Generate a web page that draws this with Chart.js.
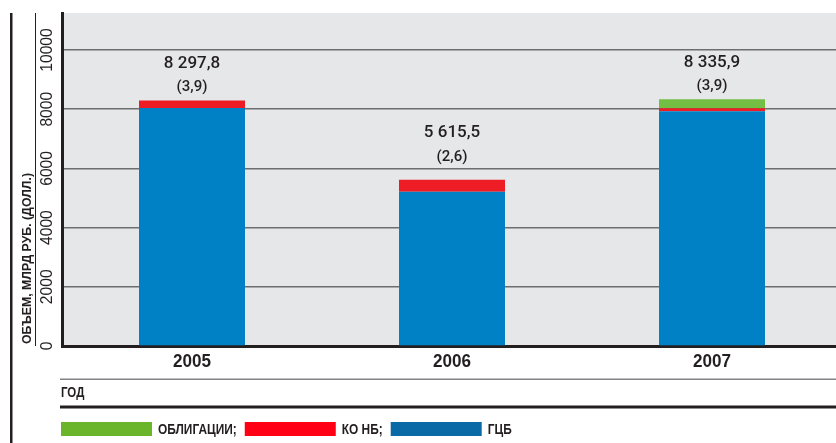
<!DOCTYPE html>
<html><head><meta charset="utf-8">
<script src="https://cdn.jsdelivr.net/npm/chart.js@4/dist/chart.umd.min.js"></script>
<style>html,body{margin:0;padding:0;background:#fff;overflow:hidden;width:836px;height:443px}canvas{display:block}</style>
</head><body>
<canvas id="c" width="842" height="443"></canvas>
<script>
// ---- data ----
const years = ['2005', '2006', '2007'];
const gcb = [8040, 5215, 7930];        // ГЦБ
const koNb = [258, 400, 100];          // КО НБ
const bonds = [0, 0, 306];             // ОБЛИГАЦИИ
const totals = [8297.8, 5615.5, 8335.9];
const totalsUsd = [3.9, 2.6, 3.9];
const yTicks = [0, 2000, 4000, 6000, 8000, 10000];
const seriesNames = ['ГЦБ', 'КО НБ', 'ОБЛИГАЦИИ'];
const yTitle = 'ОБЪЕМ, МЛРД РУБ. (ДОЛЛ.)';
const xTitle = 'ГОД';

// ---- styles ----
const SANS = "'Liberation Sans',Arial,sans-serif";
const barColors = ['#0081c6', '#ee1c25', '#72bf44'];
const legendColors = ['#0a6aa6', '#ff0014', '#6bb52b'];
const INK = '#231f20';
const labelNudge = [0, 10, 0];

function fmtRu(v, dec) {
  const s = v.toFixed(dec);
  const [i, d] = s.split('.');
  const ii = i.replace(/\B(?=(\d{3})+(?!\d))/g, ' ');
  return d ? ii + ',' + d : ii;
}

// draw horizontally condensed text; returns drawn width
function condText(ctx, t, x, y, sx, align) {
  const w = ctx.measureText(t).width * sx;
  let x0 = x;
  if (align === 'center') x0 = x - w / 2;
  ctx.save();
  ctx.textAlign = 'left';
  ctx.translate(x0, y);
  ctx.scale(sx, 1);
  ctx.fillText(t, 0, 0);
  ctx.restore();
  return w;
}

const deco = {
  id: 'deco',
  beforeDraw(chart) {
    const {ctx, chartArea: a} = chart;
    ctx.save();
    ctx.fillStyle = '#e6e7e8';
    ctx.fillRect(a.left, a.top, a.right - a.left, a.bottom - a.top);
    ctx.restore();
  },
  afterDraw(chart) {
    const {ctx, chartArea: a, scales: {x, y}} = chart;
    const W = chart.width;
    ctx.save();
    ctx.fillStyle = INK;
    ctx.fillRect(10, a.top, 2.5, chart.height - a.top);
    ctx.fillRect(35, a.top, 1, a.bottom - a.top);

    // y tick labels (rotated)
    ctx.font = '17px ' + SANS;
    ctx.textBaseline = 'middle';
    yTicks.forEach(v => {
      const py = y.getPixelForValue(v);
      ctx.save(); ctx.translate(47, py); ctx.rotate(-Math.PI / 2);
      condText(ctx, String(v), 0, 0, 0.92, 'center'); ctx.restore();
    });
    // y title
    ctx.save(); ctx.translate(27.5, a.bottom - 2); ctx.rotate(-Math.PI / 2);
    ctx.font = 'bold 13px ' + SANS; ctx.textBaseline = 'middle';
    const tw = ctx.measureText(yTitle).width;
    condText(ctx, yTitle, 0, 0, 171 / tw, 'left'); ctx.restore();

    // x category labels
    ctx.font = 'bold 18px ' + SANS; ctx.textBaseline = 'middle';
    years.forEach((yr, i) => condText(ctx, yr, x.getPixelForValue(i), 362, 0.95, 'center'));

    // separator lines and x title
    ctx.fillStyle = '#808285'; ctx.fillRect(60, 378.5, W - 60, 1.5);
    ctx.fillStyle = INK; ctx.fillRect(60, 405.5, W - 60, 3);
    ctx.font = 'bold 14px ' + SANS; ctx.textBaseline = 'middle';
    condText(ctx, xTitle, 61, 393, 0.82, 'left');

    // legend (reverse order)
    let lx = 61;
    ctx.font = 'bold 14px ' + SANS;
    for (let k = chart.data.datasets.length - 1; k >= 0; k--) {
      ctx.fillStyle = legendColors[k];
      ctx.fillRect(lx, 422, 91, 14);
      lx += 91 + 6;
      const t = chart.data.datasets[k].label + (k > 0 ? ';' : '');
      ctx.fillStyle = INK;
      lx += condText(ctx, t, lx, 430, 0.85, 'left') + 8;
    }

    // value labels
    ctx.fillStyle = '#231f20';
    years.forEach((yr, i) => {
      const cx = x.getPixelForValue(i);
      const top = y.getPixelForValue(gcb[i] + koNb[i] + bonds[i]) - labelNudge[i];
      ctx.font = '500 17px Roboto, ' + SANS;
      condText(ctx, fmtRu(totals[i], 1), cx, top - 37, 1, 'center');
      ctx.font = '500 15px Roboto, ' + SANS;
      condText(ctx, '(' + fmtRu(totalsUsd[i], 1) + ')', cx, top - 13, 1, 'center');
    });
    ctx.restore();
  }
};

new Chart(document.getElementById('c'), {
  type: 'bar',
  data: {
    labels: years,
    datasets: [
      {label: seriesNames[0], data: gcb, backgroundColor: barColors[0]},
      {label: seriesNames[1], data: koNb, backgroundColor: barColors[1]},
      {label: seriesNames[2], data: bonds, backgroundColor: barColors[2]}
    ]
  },
  options: {
    responsive: false,
    devicePixelRatio: 1,
    animation: false,
    layout: {padding: {top: 13, left: 0, right: 0, bottom: 0}},
    datasets: {bar: {categoryPercentage: 1, barPercentage: 0.4077, borderWidth: 0}},
    plugins: {legend: {display: false}, tooltip: {enabled: false}},
    scales: {
      x: {
        stacked: true,
        grid: {display: false, drawTicks: false},
        border: {display: true, color: INK, width: 3},
        ticks: {display: false},
        afterFit(s) { s.height = 97; }
      },
      y: {
        stacked: true,
        bounds: 'data',
        min: 0, max: 11250,
        ticks: {display: false},
        afterBuildTicks(s) { s.ticks = yTicks.map(v => ({value: v})); },
        grid: {drawTicks: false, color: '#6d6e70', lineWidth: 1.5},
        border: {display: true, color: INK, width: 3},
        afterFit(s) { s.width = 62; }
      }
    }
  },
  plugins: [deco]
});
</script>
</body></html>
